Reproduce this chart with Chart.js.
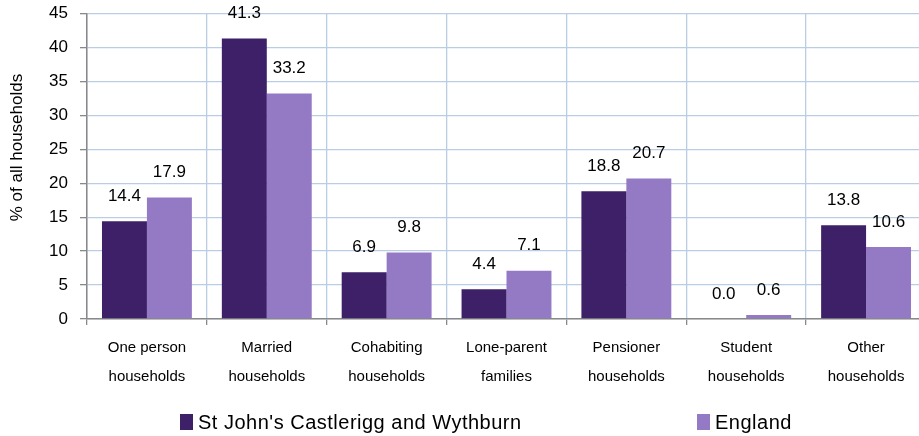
<!DOCTYPE html>
<html>
<head>
<meta charset="utf-8">
<script src="https://cdn.jsdelivr.net/npm/chart.js@4"></script>
<style>
html,body{margin:0;padding:0;background:#fff;overflow:hidden;width:919px;height:436px;}
#wrap{position:absolute;left:0;top:-7px;width:930px;height:413px;}
#legend{position:absolute;left:0;top:0;width:919px;height:436px;pointer-events:none;font-family:"Liberation Sans",Arial,sans-serif;font-size:20px;color:#000;letter-spacing:0.5px;}
.lg{position:absolute;top:409px;height:26px;line-height:26px;white-space:nowrap;}
.sw{display:inline-block;width:13px;height:16px;vertical-align:middle;margin-right:5px;position:relative;top:-2px;}
</style>
</head>
<body>
<div id="wrap"><canvas id="c" width="930" height="413"></canvas></div>
<div id="legend"></div>
<script>
const categories = [["One person","households"],["Married","households"],["Cohabiting","households"],["Lone-parent","families"],["Pensioner","households"],["Student","households"],["Other","households"]];
const seriesNames = ["St John's Castlerigg and Wythburn","England"];
const localValues = [14.4, 41.3, 6.9, 4.4, 18.8, 0.0, 13.8];
const englandValues = [17.9, 33.2, 9.8, 7.1, 20.7, 0.6, 10.6];
const yTicks = [0,5,10,15,20,25,30,35,40,45];
const yTitle = '% of all households';
const colors = ["#3d2068","#9479c5"];
const FONT = '"Liberation Sans", Arial, sans-serif';

const valueLabels = {
  id:'valueLabels',
  afterDatasetsDraw(chart){
    const ctx = chart.ctx;
    ctx.save();
    ctx.font = '17px ' + FONT;
    ctx.fillStyle = '#000';
    ctx.textAlign = 'center';
    ctx.textBaseline = 'middle';
    chart.data.datasets.forEach((ds,i)=>{
      chart.getDatasetMeta(i).data.forEach((bar,j)=>{
        ctx.fillText(ds.data[j].toFixed(1), bar.x, bar.y - 25);
      });
    });
    ctx.restore();
  }
};

const yTitlePlugin = {
  id:'yTitlePlugin',
  afterDraw(chart){
    const ctx = chart.ctx, a = chart.chartArea;
    ctx.save();
    ctx.font = '17px ' + FONT;
    ctx.fillStyle = '#000';
    ctx.textAlign = 'center';
    ctx.textBaseline = 'middle';
    ctx.translate(a.left - 70, a.top + 134);
    ctx.rotate(-Math.PI/2);
    ctx.fillText(yTitle, 0, 0);
    ctx.restore();
  }
};

new Chart(document.getElementById('c'), {
  type:'bar',
  data:{
    labels: categories,
    datasets:[
      {label:seriesNames[0], data:localValues, backgroundColor:colors[0], borderWidth:0},
      {label:seriesNames[1], data:englandValues, backgroundColor:colors[1], borderWidth:0}
    ]
  },
  options:{
    responsive:false,
    animation:false,
    events:[],
    layout:{padding:{left:0,right:4,top:0,bottom:6}},
    plugins:{legend:{display:false},tooltip:{enabled:false}},
    datasets:{bar:{categoryPercentage:0.75,barPercentage:1.0}},
    scales:{
      x:{
        grid:{color:'#b9cde5',lineWidth:1.3,offset:true,tickLength:6,tickColor:'#898989',drawTicks:true},
        border:{color:'#898989',width:1.5},
        ticks:{color:'#000',font:{family:FONT,size:15,lineHeight:1.9},padding:9,maxRotation:0,autoSkip:false}
      },
      y:{
        min:0,max:45,
        afterBuildTicks(scale){scale.ticks = yTicks.map(v=>({value:v}));},
        afterFit(scale){scale.width = 87;},
        grid:{color:'#b9cde5',lineWidth:1.3,tickLength:7,tickColor:'#898989'},
        border:{color:'#898989',width:1.5},
        ticks:{color:'#000',font:{family:FONT,size:17,lineHeight:1},padding:12}
      }
    }
  },
  plugins:[valueLabels, yTitlePlugin]
});

const lg = document.getElementById('legend');
const lpos = [180,697];
seriesNames.forEach((n,i)=>{
  const d = document.createElement('div');
  d.className='lg';
  d.style.left = lpos[i]+'px';
  const s = document.createElement('span');
  s.className='sw'; s.style.background = colors[i];
  d.appendChild(s);
  d.appendChild(document.createTextNode(n));
  lg.appendChild(d);
});
</script>
</body>
</html>
